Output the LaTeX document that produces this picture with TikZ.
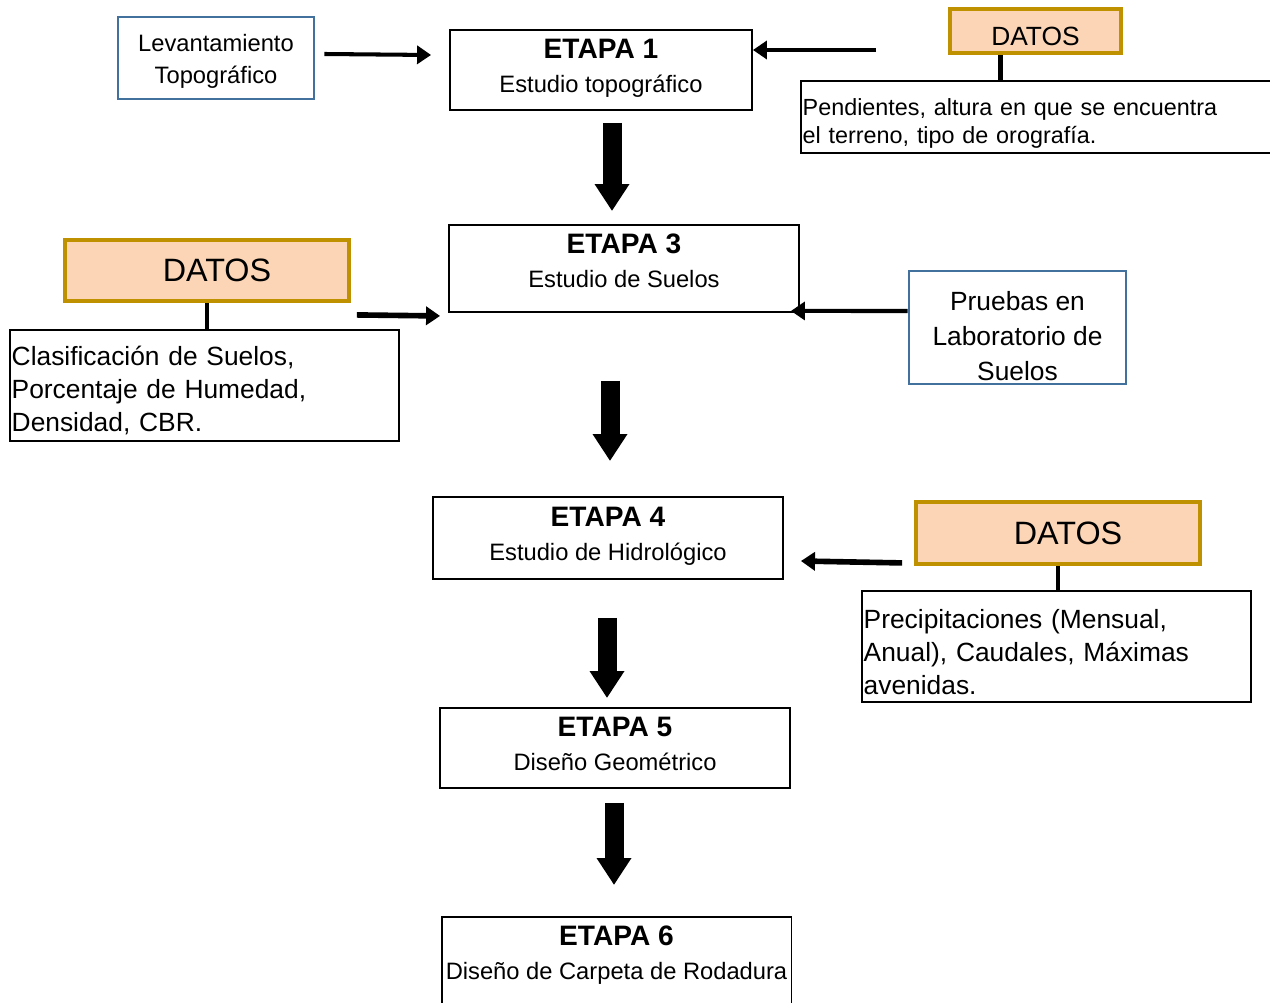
\documentclass[tikz,border=0pt]{standalone}
\usepackage{fontspec}
\setmainfont{Liberation Sans}
\usetikzlibrary{arrows.meta,calc,positioning}
\definecolor{PeachFill}{HTML}{FBD5B5}
\definecolor{GoldEdge}{HTML}{BF9000}
\definecolor{SteelEdge}{HTML}{41719C}
\definecolor{Ink}{HTML}{000000}
\tikzset{
  etapabox/.style={
    draw=Ink,
    line width=1.1pt,
    align=center,
    minimum width=7cm,
    inner xsep=2pt,
    inner ysep=2pt,
    font=\fontsize{13.5}{19.5}\selectfont
  },
  datosbox/.style={draw=GoldEdge, fill=PeachFill, line width=2.2pt, inner sep=0pt},
  fuentebox/.style={draw=SteelEdge, line width=1.6pt, align=center, inner sep=0pt},
  textobox/.style={
    draw=Ink,
    line width=1.1pt,
    align=left,
    anchor=north west,
    inner xsep=1pt,
    inner ysep=0pt,
    font=\fontsize{15}{18.7}\selectfont
  },
  flecha/.style={line width=2.3pt, -{Triangle[length=0.28cm,width=0.36cm]}},
  bloqueflecha/.style={line width=0.38cm, -{Triangle[length=0.54cm,width=0.66cm]}},
  enlace/.style={line width=2.5pt}
}
\newcommand{\etapatxt}[2]{{\fontsize{16}{19.5}\selectfont\bfseries #1}\\#2\rule[-4.5pt]{0pt}{0pt}}

\begin{document}
\begin{tikzpicture}[x=0.02cm, y=-0.02cm]
  \useasboundingbox (0,0) rectangle (1270,1003);

  % etapa 1 y sus entradas
  \node[fuentebox, minimum width=3.92cm, minimum height=1.64cm,
    font=\fontsize{13.5}{18.5}\selectfont] (lev) at (216,58)
    {\rule{0pt}{13.8pt}Levantamiento\\Topográfico};
  \node[etapabox, minimum width=6.04cm, minimum height=1.6cm] (e1) at (601,70)
    {\etapatxt{ETAPA 1}{Estudio topográfico}};
  \node[datosbox, minimum width=3.42cm, minimum height=0.88cm,
    text height=17pt, text depth=0pt,
    font=\fontsize{15}{17}\selectfont] (d1) at (1035.5,31) {DATOS};
  \node[textobox, text width=10.3cm, minimum height=1.44cm,
    font=\fontsize{13.3}{16.4}\selectfont] (t1) at (800,80)
    {\rule{0pt}{17pt}Pendientes, altura en que se encuentra\\el terreno, tipo de orografía.};
  \draw[enlace] ($(d1.south)+(-35,0)$) -- ($(d1.south |- t1.north)+(-35,0)$);
  \draw[flecha] ($(lev.east)+(9,-4)$) -- ($(e1.west)+(-18,-15)$);
  \draw[flecha] ($(d1.west)+(-72,19)$) -- ($(e1.east)+(0,-20)$);

  % etapa 3
  \node[etapabox, minimum height=1.74cm] (e3) at (624,268.5)
    {\etapatxt{ETAPA 3}{Estudio de Suelos\rule[-9pt]{0pt}{0pt}}};
  \node[datosbox, minimum width=5.68cm, minimum height=1.22cm,
    font=\fontsize{18.4}{20}\selectfont] (d2) at (207,270.5) {\hspace*{0.4cm}DATOS};
  \node[textobox, text width=7.72cm, minimum height=2.22cm] (t2) at (9,329)
    {\rule{0pt}{17pt}Clasificación de Suelos,\\Porcentaje de Humedad,\\Densidad, CBR.};
  \node[fuentebox, minimum width=4.34cm, minimum height=2.26cm,
    font=\fontsize{15}{20}\selectfont] (lab) at (1017.5,327.5)
    {\rule{0pt}{21pt}Pruebas en\\Laboratorio de\\Suelos};
  \draw[enlace] (d2.south) -- (d2.south |- t2.north);
  \draw[flecha, line width=3.2pt] ($(d2.south east)+(6,12)$) -- ($(e3.south west)+(-8,3)$);
  \draw[flecha] ($(lab.west)+(0,-16.5)$) -- ($(e3.south east)+(-9,-2)$);

  % etapa 4
  \node[etapabox, minimum height=1.64cm] (e4) at (608,538)
    {\etapatxt{ETAPA 4}{Estudio de Hidrológico}};
  \node[datosbox, minimum width=5.68cm, minimum height=1.24cm,
    font=\fontsize{18.4}{20}\selectfont] (d3) at (1058,533) {\hspace*{0.4cm}DATOS};
  \node[textobox, text width=7.72cm, minimum height=2.22cm] (t3) at (861,590)
    {\rule{0pt}{17pt}Precipitaciones (Mensual,\\Anual), Caudales, Máximas\\avenidas.};
  \draw[enlace] (d3.south) -- (d3.south |- t3.north);
  \draw[flecha, line width=3.2pt] ($(d3.south west)+(-12,-3)$) -- ($(e4.east)+(17,23)$);

  % etapas 5 y 6
  \node[etapabox, minimum height=1.6cm] (e5) at (615,748)
    {\etapatxt{ETAPA 5}{Diseño Geométrico}};
  \node[etapabox, anchor=north, inner ysep=5pt] (e6) at (616.5,916)
    {\etapatxt{ETAPA 6}{Diseño de Carpeta de Rodadura\\[1cm]\mbox{}}};

  % flechas de bloque
  \draw[bloqueflecha] ($(e1.south)+(11,12)$) -- ($(e1.south |- e3.north)+(11,-13)$);
  \draw[bloqueflecha] ($(e3.south)+(-14,68)$) -- ($(e4.north)+(2,-35)$);
  \draw[bloqueflecha] ($(e4.south)+(-1,38)$) -- ($(e5.north)+(-8,-9)$);
  \draw[bloqueflecha] ($(e5.south)+(-1,14)$) -- ($(e6.north)+(-2.5,-31)$);
\end{tikzpicture}
\end{document}
